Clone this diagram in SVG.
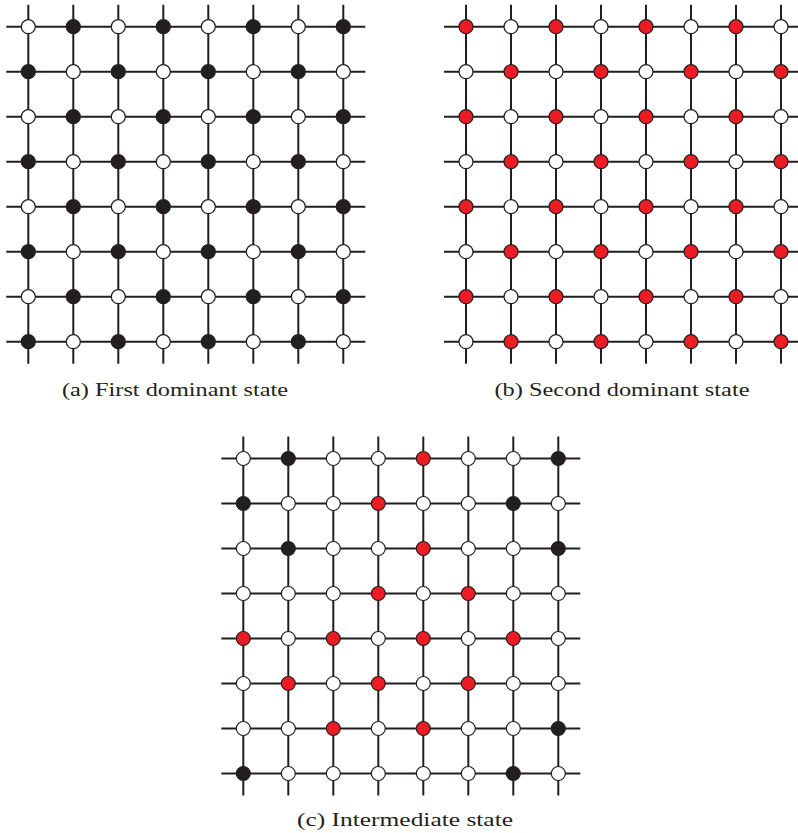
<svg xmlns="http://www.w3.org/2000/svg" width="798" height="833" viewBox="0 0 798 833">
<style>
.ln{stroke:#231f20;stroke-width:2;fill:none}
circle{stroke:#231f20;stroke-width:1.2}
.w{fill:#ffffff}
.k{fill:#231f20}
.r{fill:#ed1c24}
.lab{font-family:"Liberation Serif","DejaVu Serif",serif;font-size:19px;fill:#231f20;text-anchor:middle}
</style>
<rect width="798" height="833" fill="#ffffff"/>
<g id="connectors">
<path class="ln" transform="translate(28.3,26.7)" d="M-22 0H337M-22 45H337M-22 90H337M-22 135H337M-22 180H337M-22 225H337M-22 270H337M-22 315H337M0 -22V337M45 -22V337M90 -22V337M135 -22V337M180 -22V337M225 -22V337M270 -22V337M315 -22V337"/>
<path class="ln" transform="translate(466,26.7)" d="M-22 0H337M-22 45H337M-22 90H337M-22 135H337M-22 180H337M-22 225H337M-22 270H337M-22 315H337M0 -22V337M45 -22V337M90 -22V337M135 -22V337M180 -22V337M225 -22V337M270 -22V337M315 -22V337"/>
<path class="ln" transform="translate(243.3,458.5)" d="M-22 0H337M-22 45H337M-22 90H337M-22 135H337M-22 180H337M-22 225H337M-22 270H337M-22 315H337M0 -22V337M45 -22V337M90 -22V337M135 -22V337M180 -22V337M225 -22V337M270 -22V337M315 -22V337"/>
</g>
<g id="gridA" transform="translate(28.3,26.7)">
<g id="a00"><circle class="w" cx="0" cy="0" r="7"/></g>
<g id="a10"><circle class="k" cx="45" cy="0" r="7"/></g>
<g id="a20"><circle class="w" cx="90" cy="0" r="7"/></g>
<g id="a30"><circle class="k" cx="135" cy="0" r="7"/></g>
<g id="a40"><circle class="w" cx="180" cy="0" r="7"/></g>
<g id="a50"><circle class="k" cx="225" cy="0" r="7"/></g>
<g id="a60"><circle class="w" cx="270" cy="0" r="7"/></g>
<g id="a70"><circle class="k" cx="315" cy="0" r="7"/></g>
<g id="a01"><circle class="k" cx="0" cy="45" r="7"/></g>
<g id="a11"><circle class="w" cx="45" cy="45" r="7"/></g>
<g id="a21"><circle class="k" cx="90" cy="45" r="7"/></g>
<g id="a31"><circle class="w" cx="135" cy="45" r="7"/></g>
<g id="a41"><circle class="k" cx="180" cy="45" r="7"/></g>
<g id="a51"><circle class="w" cx="225" cy="45" r="7"/></g>
<g id="a61"><circle class="k" cx="270" cy="45" r="7"/></g>
<g id="a71"><circle class="w" cx="315" cy="45" r="7"/></g>
<g id="a02"><circle class="w" cx="0" cy="90" r="7"/></g>
<g id="a12"><circle class="k" cx="45" cy="90" r="7"/></g>
<g id="a22"><circle class="w" cx="90" cy="90" r="7"/></g>
<g id="a32"><circle class="k" cx="135" cy="90" r="7"/></g>
<g id="a42"><circle class="w" cx="180" cy="90" r="7"/></g>
<g id="a52"><circle class="k" cx="225" cy="90" r="7"/></g>
<g id="a62"><circle class="w" cx="270" cy="90" r="7"/></g>
<g id="a72"><circle class="k" cx="315" cy="90" r="7"/></g>
<g id="a03"><circle class="k" cx="0" cy="135" r="7"/></g>
<g id="a13"><circle class="w" cx="45" cy="135" r="7"/></g>
<g id="a23"><circle class="k" cx="90" cy="135" r="7"/></g>
<g id="a33"><circle class="w" cx="135" cy="135" r="7"/></g>
<g id="a43"><circle class="k" cx="180" cy="135" r="7"/></g>
<g id="a53"><circle class="w" cx="225" cy="135" r="7"/></g>
<g id="a63"><circle class="k" cx="270" cy="135" r="7"/></g>
<g id="a73"><circle class="w" cx="315" cy="135" r="7"/></g>
<g id="a04"><circle class="w" cx="0" cy="180" r="7"/></g>
<g id="a14"><circle class="k" cx="45" cy="180" r="7"/></g>
<g id="a24"><circle class="w" cx="90" cy="180" r="7"/></g>
<g id="a34"><circle class="k" cx="135" cy="180" r="7"/></g>
<g id="a44"><circle class="w" cx="180" cy="180" r="7"/></g>
<g id="a54"><circle class="k" cx="225" cy="180" r="7"/></g>
<g id="a64"><circle class="w" cx="270" cy="180" r="7"/></g>
<g id="a74"><circle class="k" cx="315" cy="180" r="7"/></g>
<g id="a05"><circle class="k" cx="0" cy="225" r="7"/></g>
<g id="a15"><circle class="w" cx="45" cy="225" r="7"/></g>
<g id="a25"><circle class="k" cx="90" cy="225" r="7"/></g>
<g id="a35"><circle class="w" cx="135" cy="225" r="7"/></g>
<g id="a45"><circle class="k" cx="180" cy="225" r="7"/></g>
<g id="a55"><circle class="w" cx="225" cy="225" r="7"/></g>
<g id="a65"><circle class="k" cx="270" cy="225" r="7"/></g>
<g id="a75"><circle class="w" cx="315" cy="225" r="7"/></g>
<g id="a06"><circle class="w" cx="0" cy="270" r="7"/></g>
<g id="a16"><circle class="k" cx="45" cy="270" r="7"/></g>
<g id="a26"><circle class="w" cx="90" cy="270" r="7"/></g>
<g id="a36"><circle class="k" cx="135" cy="270" r="7"/></g>
<g id="a46"><circle class="w" cx="180" cy="270" r="7"/></g>
<g id="a56"><circle class="k" cx="225" cy="270" r="7"/></g>
<g id="a66"><circle class="w" cx="270" cy="270" r="7"/></g>
<g id="a76"><circle class="k" cx="315" cy="270" r="7"/></g>
<g id="a07"><circle class="k" cx="0" cy="315" r="7"/></g>
<g id="a17"><circle class="w" cx="45" cy="315" r="7"/></g>
<g id="a27"><circle class="k" cx="90" cy="315" r="7"/></g>
<g id="a37"><circle class="w" cx="135" cy="315" r="7"/></g>
<g id="a47"><circle class="k" cx="180" cy="315" r="7"/></g>
<g id="a57"><circle class="w" cx="225" cy="315" r="7"/></g>
<g id="a67"><circle class="k" cx="270" cy="315" r="7"/></g>
<g id="a77"><circle class="w" cx="315" cy="315" r="7"/></g>
</g>
<g id="gridB" transform="translate(466,26.7)">
<g id="b00"><circle class="r" cx="0" cy="0" r="7"/></g>
<g id="b10"><circle class="w" cx="45" cy="0" r="7"/></g>
<g id="b20"><circle class="r" cx="90" cy="0" r="7"/></g>
<g id="b30"><circle class="w" cx="135" cy="0" r="7"/></g>
<g id="b40"><circle class="r" cx="180" cy="0" r="7"/></g>
<g id="b50"><circle class="w" cx="225" cy="0" r="7"/></g>
<g id="b60"><circle class="r" cx="270" cy="0" r="7"/></g>
<g id="b70"><circle class="w" cx="315" cy="0" r="7"/></g>
<g id="b01"><circle class="w" cx="0" cy="45" r="7"/></g>
<g id="b11"><circle class="r" cx="45" cy="45" r="7"/></g>
<g id="b21"><circle class="w" cx="90" cy="45" r="7"/></g>
<g id="b31"><circle class="r" cx="135" cy="45" r="7"/></g>
<g id="b41"><circle class="w" cx="180" cy="45" r="7"/></g>
<g id="b51"><circle class="r" cx="225" cy="45" r="7"/></g>
<g id="b61"><circle class="w" cx="270" cy="45" r="7"/></g>
<g id="b71"><circle class="r" cx="315" cy="45" r="7"/></g>
<g id="b02"><circle class="r" cx="0" cy="90" r="7"/></g>
<g id="b12"><circle class="w" cx="45" cy="90" r="7"/></g>
<g id="b22"><circle class="r" cx="90" cy="90" r="7"/></g>
<g id="b32"><circle class="w" cx="135" cy="90" r="7"/></g>
<g id="b42"><circle class="r" cx="180" cy="90" r="7"/></g>
<g id="b52"><circle class="w" cx="225" cy="90" r="7"/></g>
<g id="b62"><circle class="r" cx="270" cy="90" r="7"/></g>
<g id="b72"><circle class="w" cx="315" cy="90" r="7"/></g>
<g id="b03"><circle class="w" cx="0" cy="135" r="7"/></g>
<g id="b13"><circle class="r" cx="45" cy="135" r="7"/></g>
<g id="b23"><circle class="w" cx="90" cy="135" r="7"/></g>
<g id="b33"><circle class="r" cx="135" cy="135" r="7"/></g>
<g id="b43"><circle class="w" cx="180" cy="135" r="7"/></g>
<g id="b53"><circle class="r" cx="225" cy="135" r="7"/></g>
<g id="b63"><circle class="w" cx="270" cy="135" r="7"/></g>
<g id="b73"><circle class="r" cx="315" cy="135" r="7"/></g>
<g id="b04"><circle class="r" cx="0" cy="180" r="7"/></g>
<g id="b14"><circle class="w" cx="45" cy="180" r="7"/></g>
<g id="b24"><circle class="r" cx="90" cy="180" r="7"/></g>
<g id="b34"><circle class="w" cx="135" cy="180" r="7"/></g>
<g id="b44"><circle class="r" cx="180" cy="180" r="7"/></g>
<g id="b54"><circle class="w" cx="225" cy="180" r="7"/></g>
<g id="b64"><circle class="r" cx="270" cy="180" r="7"/></g>
<g id="b74"><circle class="w" cx="315" cy="180" r="7"/></g>
<g id="b05"><circle class="w" cx="0" cy="225" r="7"/></g>
<g id="b15"><circle class="r" cx="45" cy="225" r="7"/></g>
<g id="b25"><circle class="w" cx="90" cy="225" r="7"/></g>
<g id="b35"><circle class="r" cx="135" cy="225" r="7"/></g>
<g id="b45"><circle class="w" cx="180" cy="225" r="7"/></g>
<g id="b55"><circle class="r" cx="225" cy="225" r="7"/></g>
<g id="b65"><circle class="w" cx="270" cy="225" r="7"/></g>
<g id="b75"><circle class="r" cx="315" cy="225" r="7"/></g>
<g id="b06"><circle class="r" cx="0" cy="270" r="7"/></g>
<g id="b16"><circle class="w" cx="45" cy="270" r="7"/></g>
<g id="b26"><circle class="r" cx="90" cy="270" r="7"/></g>
<g id="b36"><circle class="w" cx="135" cy="270" r="7"/></g>
<g id="b46"><circle class="r" cx="180" cy="270" r="7"/></g>
<g id="b56"><circle class="w" cx="225" cy="270" r="7"/></g>
<g id="b66"><circle class="r" cx="270" cy="270" r="7"/></g>
<g id="b76"><circle class="w" cx="315" cy="270" r="7"/></g>
<g id="b07"><circle class="w" cx="0" cy="315" r="7"/></g>
<g id="b17"><circle class="r" cx="45" cy="315" r="7"/></g>
<g id="b27"><circle class="w" cx="90" cy="315" r="7"/></g>
<g id="b37"><circle class="r" cx="135" cy="315" r="7"/></g>
<g id="b47"><circle class="w" cx="180" cy="315" r="7"/></g>
<g id="b57"><circle class="r" cx="225" cy="315" r="7"/></g>
<g id="b67"><circle class="w" cx="270" cy="315" r="7"/></g>
<g id="b77"><circle class="r" cx="315" cy="315" r="7"/></g>
</g>
<g id="gridC" transform="translate(243.3,458.5)">
<g id="c00"><circle class="w" cx="0" cy="0" r="7"/></g>
<g id="c10"><circle class="k" cx="45" cy="0" r="7"/></g>
<g id="c20"><circle class="w" cx="90" cy="0" r="7"/></g>
<g id="c30"><circle class="w" cx="135" cy="0" r="7"/></g>
<g id="c40"><circle class="r" cx="180" cy="0" r="7"/></g>
<g id="c50"><circle class="w" cx="225" cy="0" r="7"/></g>
<g id="c60"><circle class="w" cx="270" cy="0" r="7"/></g>
<g id="c70"><circle class="k" cx="315" cy="0" r="7"/></g>
<g id="c01"><circle class="k" cx="0" cy="45" r="7"/></g>
<g id="c11"><circle class="w" cx="45" cy="45" r="7"/></g>
<g id="c21"><circle class="w" cx="90" cy="45" r="7"/></g>
<g id="c31"><circle class="r" cx="135" cy="45" r="7"/></g>
<g id="c41"><circle class="w" cx="180" cy="45" r="7"/></g>
<g id="c51"><circle class="w" cx="225" cy="45" r="7"/></g>
<g id="c61"><circle class="k" cx="270" cy="45" r="7"/></g>
<g id="c71"><circle class="w" cx="315" cy="45" r="7"/></g>
<g id="c02"><circle class="w" cx="0" cy="90" r="7"/></g>
<g id="c12"><circle class="k" cx="45" cy="90" r="7"/></g>
<g id="c22"><circle class="w" cx="90" cy="90" r="7"/></g>
<g id="c32"><circle class="w" cx="135" cy="90" r="7"/></g>
<g id="c42"><circle class="r" cx="180" cy="90" r="7"/></g>
<g id="c52"><circle class="w" cx="225" cy="90" r="7"/></g>
<g id="c62"><circle class="w" cx="270" cy="90" r="7"/></g>
<g id="c72"><circle class="k" cx="315" cy="90" r="7"/></g>
<g id="c03"><circle class="w" cx="0" cy="135" r="7"/></g>
<g id="c13"><circle class="w" cx="45" cy="135" r="7"/></g>
<g id="c23"><circle class="w" cx="90" cy="135" r="7"/></g>
<g id="c33"><circle class="r" cx="135" cy="135" r="7"/></g>
<g id="c43"><circle class="w" cx="180" cy="135" r="7"/></g>
<g id="c53"><circle class="r" cx="225" cy="135" r="7"/></g>
<g id="c63"><circle class="w" cx="270" cy="135" r="7"/></g>
<g id="c73"><circle class="w" cx="315" cy="135" r="7"/></g>
<g id="c04"><circle class="r" cx="0" cy="180" r="7"/></g>
<g id="c14"><circle class="w" cx="45" cy="180" r="7"/></g>
<g id="c24"><circle class="r" cx="90" cy="180" r="7"/></g>
<g id="c34"><circle class="w" cx="135" cy="180" r="7"/></g>
<g id="c44"><circle class="r" cx="180" cy="180" r="7"/></g>
<g id="c54"><circle class="w" cx="225" cy="180" r="7"/></g>
<g id="c64"><circle class="r" cx="270" cy="180" r="7"/></g>
<g id="c74"><circle class="w" cx="315" cy="180" r="7"/></g>
<g id="c05"><circle class="w" cx="0" cy="225" r="7"/></g>
<g id="c15"><circle class="r" cx="45" cy="225" r="7"/></g>
<g id="c25"><circle class="w" cx="90" cy="225" r="7"/></g>
<g id="c35"><circle class="r" cx="135" cy="225" r="7"/></g>
<g id="c45"><circle class="w" cx="180" cy="225" r="7"/></g>
<g id="c55"><circle class="r" cx="225" cy="225" r="7"/></g>
<g id="c65"><circle class="w" cx="270" cy="225" r="7"/></g>
<g id="c75"><circle class="w" cx="315" cy="225" r="7"/></g>
<g id="c06"><circle class="w" cx="0" cy="270" r="7"/></g>
<g id="c16"><circle class="w" cx="45" cy="270" r="7"/></g>
<g id="c26"><circle class="r" cx="90" cy="270" r="7"/></g>
<g id="c36"><circle class="w" cx="135" cy="270" r="7"/></g>
<g id="c46"><circle class="r" cx="180" cy="270" r="7"/></g>
<g id="c56"><circle class="w" cx="225" cy="270" r="7"/></g>
<g id="c66"><circle class="w" cx="270" cy="270" r="7"/></g>
<g id="c76"><circle class="k" cx="315" cy="270" r="7"/></g>
<g id="c07"><circle class="k" cx="0" cy="315" r="7"/></g>
<g id="c17"><circle class="w" cx="45" cy="315" r="7"/></g>
<g id="c27"><circle class="w" cx="90" cy="315" r="7"/></g>
<g id="c37"><circle class="w" cx="135" cy="315" r="7"/></g>
<g id="c47"><circle class="w" cx="180" cy="315" r="7"/></g>
<g id="c57"><circle class="w" cx="225" cy="315" r="7"/></g>
<g id="c67"><circle class="k" cx="270" cy="315" r="7"/></g>
<g id="c77"><circle class="w" cx="315" cy="315" r="7"/></g>
</g>
<g id="labels">
<text class="lab" x="175" y="396" textLength="226" lengthAdjust="spacingAndGlyphs">(a) First dominant state</text>
<text class="lab" x="622" y="396" textLength="255" lengthAdjust="spacingAndGlyphs">(b) Second dominant state</text>
<text class="lab" x="405" y="826" textLength="216" lengthAdjust="spacingAndGlyphs">(c) Intermediate state</text>
</g>
</svg>
